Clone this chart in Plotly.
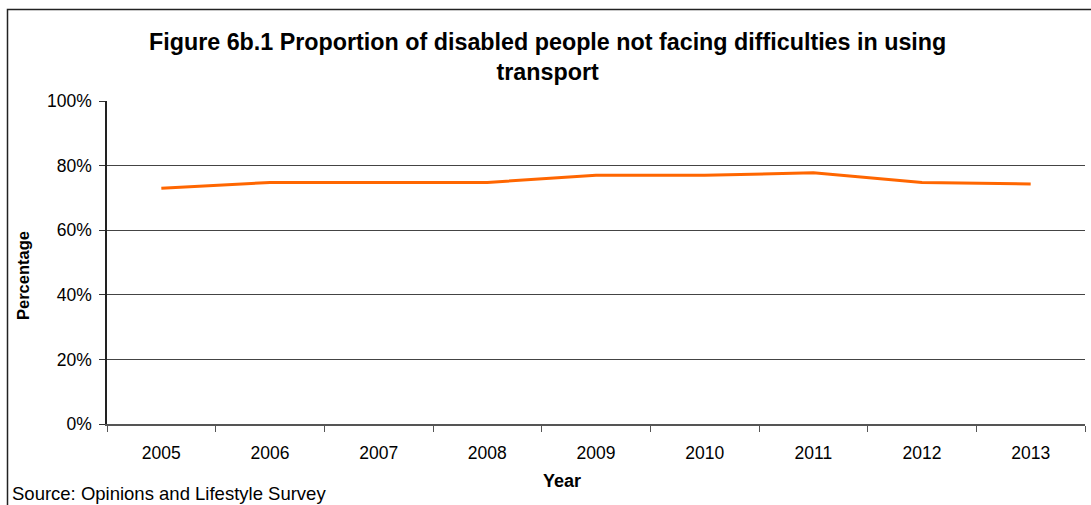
import plotly.graph_objects as go

years = ["2005", "2006", "2007", "2008", "2009", "2010", "2011", "2012", "2013"]
values = [0.73, 0.748, 0.748, 0.748, 0.77, 0.77, 0.778, 0.748, 0.743]
y_ticks = [0, 0.2, 0.4, 0.6, 0.8, 1.0]
y_labels = ["0%", "20%", "40%", "60%", "80%", "100%"]

W, H = 1091, 505
L, R, T, B = 107, 6, 101, 81
pw, ph = W - L - R, H - T - B

def px(x):
    return (x - L) / pw

def py(y):
    return (H - B - y) / ph

font = "Liberation Sans, Arial, sans-serif"

fig = go.Figure()
fig.add_trace(go.Scatter(x=years, y=values, mode="lines",
                         line=dict(color="#FF6600", width=3), showlegend=False,
                         hoverinfo="x+y"))

fig.update_layout(
    width=W, height=H,
    margin=dict(l=L, r=R, t=T, b=B),
    paper_bgcolor="white", plot_bgcolor="white",
    font=dict(family=font, size=18, color="black"),
    xaxis=dict(type="category", tickson="boundaries", ticks="outside", ticklen=6,
               tickcolor="#555", showgrid=False, showline=True, linecolor="#555",
               linewidth=1.5, tickfont=dict(size=17.5), range=[-0.5, 8.5], fixedrange=True,
               ticklabelstandoff=12),
    yaxis=dict(range=[0, 1], tickvals=y_ticks, ticktext=y_labels, ticks="outside",
               ticklen=6, tickcolor="#333", showgrid=True, gridcolor="#444", gridwidth=1,
               showline=True, linecolor="#222", linewidth=1.5, zeroline=False,
               tickfont=dict(size=17.5), fixedrange=True, ticklabelstandoff=4),
)

fig.add_annotation(text="<b>Figure 6b.1 Proportion of disabled people not facing difficulties in using<br>transport</b>",
                   x=px(547), y=py(57), xref="paper", yref="paper", showarrow=False,
                   font=dict(size=23.3, family=font), align="center", xanchor="center", yanchor="middle")
fig.add_annotation(text="<b>Percentage</b>", x=px(23), y=py(276), xref="paper", yref="paper",
                   showarrow=False, textangle=-90, font=dict(size=16.5, family=font),
                   xanchor="center", yanchor="middle")
fig.add_annotation(text="<b>Year</b>", x=px(562), y=py(481), xref="paper", yref="paper",
                   showarrow=False, font=dict(size=18, family=font), xanchor="center", yanchor="middle")
fig.add_annotation(text="Source: Opinions and Lifestyle Survey", x=px(10), y=py(493), xref="paper",
                   yref="paper", showarrow=False, font=dict(size=18.5, family=font),
                   xanchor="left", yanchor="middle")

fig.add_shape(type="rect", xref="paper", yref="paper", x0=px(7.5), x1=px(1100), y0=py(9.5), y1=py(520),
              line=dict(color="#222", width=1.5), fillcolor="rgba(0,0,0,0)", layer="below")

fig.write_html("out.html", config={"displayModeBar": False},
               post_script="document.body.style.margin='0';document.body.style.overflow='hidden';")
